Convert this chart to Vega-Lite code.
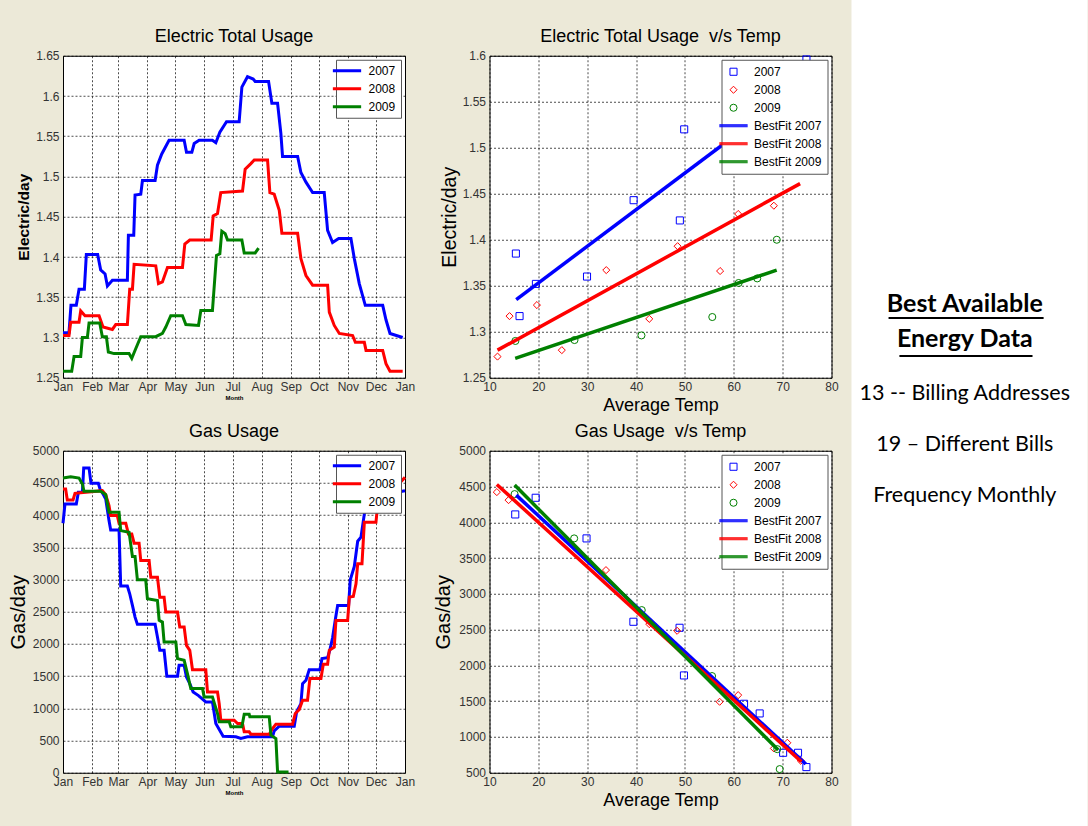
{
 "$schema": "https://vega.github.io/schema/vega-lite/v6.json",
 "background": "#ECE9D8",
 "padding": {"left": 7, "top": 0, "right": 0, "bottom": 0},
 "datasets": {
  "elec": [
   {"year":"2007","day":0,"value":1.306},{"year":"2007","day":6.4,"value":1.306},{"year":"2007","day":8.5,"value":1.34},{"year":"2007","day":14.2,"value":1.34},{"year":"2007","day":17.1,"value":1.36},{"year":"2007","day":22.8,"value":1.36},{"year":"2007","day":24.9,"value":1.403},{"year":"2007","day":37,"value":1.403},{"year":"2007","day":40.2,"value":1.384},{"year":"2007","day":44.9,"value":1.379},{"year":"2007","day":47.4,"value":1.364},{"year":"2007","day":52.7,"value":1.371},{"year":"2007","day":68.7,"value":1.371},{"year":"2007","day":69.8,"value":1.427},{"year":"2007","day":75.5,"value":1.427},{"year":"2007","day":76.9,"value":1.477},{"year":"2007","day":83,"value":1.478},{"year":"2007","day":84.8,"value":1.495},{"year":"2007","day":98.3,"value":1.495},{"year":"2007","day":100.8,"value":1.514},{"year":"2007","day":105.4,"value":1.528},{"year":"2007","day":113.2,"value":1.545},{"year":"2007","day":129.3,"value":1.545},{"year":"2007","day":131.8,"value":1.53},{"year":"2007","day":137.5,"value":1.53},{"year":"2007","day":140,"value":1.541},{"year":"2007","day":145.3,"value":1.545},{"year":"2007","day":159.5,"value":1.545},{"year":"2007","day":163.1,"value":1.542},{"year":"2007","day":167.4,"value":1.555},{"year":"2007","day":174.5,"value":1.568},{"year":"2007","day":188,"value":1.568},{"year":"2007","day":190.9,"value":1.611},{"year":"2007","day":196.9,"value":1.624},{"year":"2007","day":203,"value":1.621},{"year":"2007","day":205.1,"value":1.618},{"year":"2007","day":219.4,"value":1.618},{"year":"2007","day":222.9,"value":1.591},{"year":"2007","day":229,"value":1.591},{"year":"2007","day":232.5,"value":1.554},{"year":"2007","day":234.3,"value":1.525},{"year":"2007","day":250.4,"value":1.525},{"year":"2007","day":253.9,"value":1.505},{"year":"2007","day":259.3,"value":1.493},{"year":"2007","day":266.4,"value":1.48},{"year":"2007","day":278.8,"value":1.48},{"year":"2007","day":282.4,"value":1.433},{"year":"2007","day":287.7,"value":1.418},{"year":"2007","day":294.2,"value":1.423},{"year":"2007","day":307.3,"value":1.423},{"year":"2007","day":310.9,"value":1.398},{"year":"2007","day":316.2,"value":1.367},{"year":"2007","day":322.6,"value":1.34},{"year":"2007","day":341.2,"value":1.34},{"year":"2007","day":344.7,"value":1.322},{"year":"2007","day":349,"value":1.305},{"year":"2007","day":362.5,"value":1.3},
   {"year":"2008","day":0,"value":1.3025},{"year":"2008","day":6.4,"value":1.3025},{"year":"2008","day":8.2,"value":1.319},{"year":"2008","day":17.1,"value":1.319},{"year":"2008","day":18.9,"value":1.333},{"year":"2008","day":23.5,"value":1.327},{"year":"2008","day":38.5,"value":1.327},{"year":"2008","day":42.7,"value":1.313},{"year":"2008","day":52.7,"value":1.31},{"year":"2008","day":56.3,"value":1.316},{"year":"2008","day":68.7,"value":1.316},{"year":"2008","day":71.2,"value":1.36},{"year":"2008","day":74.1,"value":1.36},{"year":"2008","day":75.9,"value":1.391},{"year":"2008","day":99,"value":1.389},{"year":"2008","day":101.9,"value":1.367},{"year":"2008","day":106.1,"value":1.369},{"year":"2008","day":111.5,"value":1.387},{"year":"2008","day":127.5,"value":1.387},{"year":"2008","day":130,"value":1.416},{"year":"2008","day":135.3,"value":1.421},{"year":"2008","day":158.1,"value":1.421},{"year":"2008","day":160.3,"value":1.451},{"year":"2008","day":164.9,"value":1.454},{"year":"2008","day":168.4,"value":1.48},{"year":"2008","day":191.6,"value":1.482},{"year":"2008","day":194.4,"value":1.509},{"year":"2008","day":200.5,"value":1.516},{"year":"2008","day":204.1,"value":1.5205},{"year":"2008","day":218.3,"value":1.5205},{"year":"2008","day":220.8,"value":1.48},{"year":"2008","day":225.4,"value":1.478},{"year":"2008","day":230.8,"value":1.458},{"year":"2008","day":233.6,"value":1.4295},{"year":"2008","day":250.4,"value":1.4295},{"year":"2008","day":253.9,"value":1.398},{"year":"2008","day":259.3,"value":1.377},{"year":"2008","day":266.4,"value":1.365},{"year":"2008","day":282.4,"value":1.365},{"year":"2008","day":284.2,"value":1.3315},{"year":"2008","day":289.5,"value":1.315},{"year":"2008","day":294.9,"value":1.305},{"year":"2008","day":309.1,"value":1.3025},{"year":"2008","day":312,"value":1.294},{"year":"2008","day":321.6,"value":1.294},{"year":"2008","day":323.4,"value":1.284},{"year":"2008","day":341.2,"value":1.284},{"year":"2008","day":344.7,"value":1.2675},{"year":"2008","day":349,"value":1.258},{"year":"2008","day":362.5,"value":1.258},
   {"year":"2009","day":0,"value":1.258},{"year":"2009","day":9.3,"value":1.258},{"year":"2009","day":11.8,"value":1.2765},{"year":"2009","day":18.9,"value":1.2765},{"year":"2009","day":20.7,"value":1.3},{"year":"2009","day":26,"value":1.3},{"year":"2009","day":27.8,"value":1.318},{"year":"2009","day":39.2,"value":1.318},{"year":"2009","day":42,"value":1.301},{"year":"2009","day":46.3,"value":1.301},{"year":"2009","day":48.4,"value":1.282},{"year":"2009","day":54.5,"value":1.28},{"year":"2009","day":70.5,"value":1.28},{"year":"2009","day":73.4,"value":1.274},{"year":"2009","day":77.6,"value":1.286},{"year":"2009","day":83,"value":1.301},{"year":"2009","day":99,"value":1.301},{"year":"2009","day":106.1,"value":1.305},{"year":"2009","day":109.7,"value":1.313},{"year":"2009","day":115,"value":1.327},{"year":"2009","day":127.5,"value":1.327},{"year":"2009","day":131.1,"value":1.316},{"year":"2009","day":144.6,"value":1.315},{"year":"2009","day":147.1,"value":1.3335},{"year":"2009","day":159.5,"value":1.3335},{"year":"2009","day":163.8,"value":1.402},{"year":"2009","day":167.4,"value":1.404},{"year":"2009","day":169.5,"value":1.432},{"year":"2009","day":173.1,"value":1.429},{"year":"2009","day":175.6,"value":1.421},{"year":"2009","day":190.9,"value":1.421},{"year":"2009","day":193.4,"value":1.405},{"year":"2009","day":205.1,"value":1.405},{"year":"2009","day":208.7,"value":1.411}
  ],
  "gas": [
   {"year":"2007","day":0,"value":3874},{"year":"2007","day":2.1,"value":4173},{"year":"2007","day":14.2,"value":4173},{"year":"2007","day":16.4,"value":4354},{"year":"2007","day":20.7,"value":4354},{"year":"2007","day":22.1,"value":4731},{"year":"2007","day":27.8,"value":4731},{"year":"2007","day":29.9,"value":4494},{"year":"2007","day":37.7,"value":4494},{"year":"2007","day":39.5,"value":4406},{"year":"2007","day":43.8,"value":4302},{"year":"2007","day":45.6,"value":4251},{"year":"2007","day":49.1,"value":3915},{"year":"2007","day":50.9,"value":3770},{"year":"2007","day":59.8,"value":3770},{"year":"2007","day":61.6,"value":2898},{"year":"2007","day":68.7,"value":2898},{"year":"2007","day":71.2,"value":2779},{"year":"2007","day":74.1,"value":2598},{"year":"2007","day":76.9,"value":2417},{"year":"2007","day":79.4,"value":2304},{"year":"2007","day":98.3,"value":2304},{"year":"2007","day":100.8,"value":2107},{"year":"2007","day":103.3,"value":1901},{"year":"2007","day":107.9,"value":1901},{"year":"2007","day":110.8,"value":1498},{"year":"2007","day":122.2,"value":1498},{"year":"2007","day":123.9,"value":1668},{"year":"2007","day":129.3,"value":1668},{"year":"2007","day":131.8,"value":1488},{"year":"2007","day":135.3,"value":1384},{"year":"2007","day":138.9,"value":1255},{"year":"2007","day":144.6,"value":1198},{"year":"2007","day":152.4,"value":1100},{"year":"2007","day":159.5,"value":1100},{"year":"2007","day":163.1,"value":764},{"year":"2007","day":170.9,"value":568},{"year":"2007","day":184.5,"value":558},{"year":"2007","day":189.8,"value":532},{"year":"2007","day":196.9,"value":558},{"year":"2007","day":223.6,"value":558},{"year":"2007","day":225.4,"value":651},{"year":"2007","day":230.8,"value":723},{"year":"2007","day":246.8,"value":723},{"year":"2007","day":249.3,"value":945},{"year":"2007","day":253.9,"value":1074},{"year":"2007","day":255.7,"value":1384},{"year":"2007","day":259.3,"value":1436},{"year":"2007","day":262.8,"value":1601},{"year":"2007","day":274.2,"value":1601},{"year":"2007","day":276.4,"value":1772},{"year":"2007","day":282.4,"value":1787},{"year":"2007","day":284.9,"value":1911},{"year":"2007","day":287.7,"value":2097},{"year":"2007","day":290.6,"value":2376},{"year":"2007","day":293.1,"value":2598},{"year":"2007","day":304.8,"value":2598},{"year":"2007","day":306.6,"value":2996},{"year":"2007","day":310.9,"value":3202},{"year":"2007","day":314.5,"value":3595},{"year":"2007","day":318,"value":3657},{"year":"2007","day":321.6,"value":4018},{"year":"2007","day":326.9,"value":4277},{"year":"2007","day":365,"value":4380},
   {"year":"2008","day":0,"value":4406},{"year":"2008","day":2.8,"value":4406},{"year":"2008","day":4.6,"value":4235},{"year":"2008","day":10.7,"value":4235},{"year":"2008","day":12.8,"value":4339},{"year":"2008","day":42,"value":4380},{"year":"2008","day":45.6,"value":4318},{"year":"2008","day":49.1,"value":4147},{"year":"2008","day":50.9,"value":3993},{"year":"2008","day":58,"value":3993},{"year":"2008","day":59.8,"value":3874},{"year":"2008","day":67,"value":3874},{"year":"2008","day":69.8,"value":3708},{"year":"2008","day":73.4,"value":3708},{"year":"2008","day":75.9,"value":3564},{"year":"2008","day":81.2,"value":3564},{"year":"2008","day":83,"value":3295},{"year":"2008","day":91.9,"value":3295},{"year":"2008","day":93.7,"value":3037},{"year":"2008","day":100.8,"value":3037},{"year":"2008","day":103.3,"value":2727},{"year":"2008","day":107.9,"value":2727},{"year":"2008","day":109.7,"value":2495},{"year":"2008","day":122.2,"value":2495},{"year":"2008","day":124.6,"value":2262},{"year":"2008","day":129.3,"value":2262},{"year":"2008","day":131.8,"value":1978},{"year":"2008","day":135.3,"value":1901},{"year":"2008","day":138.2,"value":1601},{"year":"2008","day":152.4,"value":1601},{"year":"2008","day":154.2,"value":1255},{"year":"2008","day":164.9,"value":1255},{"year":"2008","day":166.7,"value":1074},{"year":"2008","day":168.4,"value":816},{"year":"2008","day":182.7,"value":816},{"year":"2008","day":186.3,"value":764},{"year":"2008","day":191.6,"value":764},{"year":"2008","day":193.4,"value":635},{"year":"2008","day":198.7,"value":635},{"year":"2008","day":200.5,"value":599},{"year":"2008","day":220.1,"value":599},{"year":"2008","day":223.6,"value":687},{"year":"2008","day":227.2,"value":754},{"year":"2008","day":245,"value":754},{"year":"2008","day":247.9,"value":919},{"year":"2008","day":252.1,"value":981},{"year":"2008","day":255.7,"value":1126},{"year":"2008","day":261,"value":1126},{"year":"2008","day":263.5,"value":1462},{"year":"2008","day":275.3,"value":1462},{"year":"2008","day":277.8,"value":1684},{"year":"2008","day":282.4,"value":1684},{"year":"2008","day":284.2,"value":1901},{"year":"2008","day":289.5,"value":1952},{"year":"2008","day":291.3,"value":2366},{"year":"2008","day":303.8,"value":2366},{"year":"2008","day":305.6,"value":2727},{"year":"2008","day":309.8,"value":2737},{"year":"2008","day":312.7,"value":2934},{"year":"2008","day":314.5,"value":3244},{"year":"2008","day":319.1,"value":3244},{"year":"2008","day":321.6,"value":3889},{"year":"2008","day":334,"value":3889},{"year":"2008","day":335.8,"value":4147},{"year":"2008","day":365,"value":4587},
   {"year":"2009","day":0,"value":4576},{"year":"2009","day":8.2,"value":4597},{"year":"2009","day":17.1,"value":4576},{"year":"2009","day":20.7,"value":4483},{"year":"2009","day":22.4,"value":4370},{"year":"2009","day":40.2,"value":4370},{"year":"2009","day":45.6,"value":4318},{"year":"2009","day":49.1,"value":4044},{"year":"2009","day":59.8,"value":4044},{"year":"2009","day":61.6,"value":3760},{"year":"2009","day":70.5,"value":3734},{"year":"2009","day":74.1,"value":3357},{"year":"2009","day":76.9,"value":3357},{"year":"2009","day":79.4,"value":2996},{"year":"2009","day":88.3,"value":2996},{"year":"2009","day":90.1,"value":2701},{"year":"2009","day":100.8,"value":2675},{"year":"2009","day":102.6,"value":2366},{"year":"2009","day":106.1,"value":2340},{"year":"2009","day":107.9,"value":2030},{"year":"2009","day":120.4,"value":2030},{"year":"2009","day":122.2,"value":1772},{"year":"2009","day":129.3,"value":1746},{"year":"2009","day":132.8,"value":1539},{"year":"2009","day":136.4,"value":1307},{"year":"2009","day":148.9,"value":1307},{"year":"2009","day":150.6,"value":1178},{"year":"2009","day":159.5,"value":1178},{"year":"2009","day":164.9,"value":919},{"year":"2009","day":166.7,"value":790},{"year":"2009","day":177.4,"value":790},{"year":"2009","day":179.1,"value":713},{"year":"2009","day":190.9,"value":713},{"year":"2009","day":193.4,"value":909},{"year":"2009","day":198.7,"value":909},{"year":"2009","day":199.4,"value":868},{"year":"2009","day":220.1,"value":868},{"year":"2009","day":221.9,"value":584},{"year":"2009","day":227.2,"value":532},{"year":"2009","day":229,"value":10},{"year":"2009","day":240.7,"value":10}
  ],
  "elecPts": [
   {"series":"2007","temp":15.4,"value":1.385},{"series":"2007","temp":16.15,"value":1.317},{"series":"2007","temp":19.5,"value":1.352},{"series":"2007","temp":29.96,"value":1.36},{"series":"2007","temp":39.5,"value":1.443},{"series":"2007","temp":48.96,"value":1.421},{"series":"2007","temp":49.85,"value":1.52},{"series":"2007","temp":74.87,"value":1.596},
   {"series":"2008","temp":11.64,"value":1.273},{"series":"2008","temp":14.1,"value":1.317},{"series":"2008","temp":19.7,"value":1.329},{"series":"2008","temp":24.8,"value":1.28},{"series":"2008","temp":33.9,"value":1.367},{"series":"2008","temp":42.7,"value":1.314},{"series":"2008","temp":48.5,"value":1.393},{"series":"2008","temp":57.2,"value":1.366},{"series":"2008","temp":60.9,"value":1.428},{"series":"2008","temp":68.2,"value":1.437},
   {"series":"2009","temp":15.3,"value":1.29},{"series":"2009","temp":27.4,"value":1.291},{"series":"2009","temp":41.1,"value":1.296},{"series":"2009","temp":55.6,"value":1.316},{"series":"2009","temp":61,"value":1.353},{"series":"2009","temp":64.8,"value":1.358},{"series":"2009","temp":68.8,"value":1.4}
  ],
  "elecFit": [
   {"series":"BestFit 2007","temp":15.47,"value":1.335},{"series":"BestFit 2007","temp":75,"value":1.572},
   {"series":"BestFit 2008","temp":11.64,"value":1.28},{"series":"BestFit 2008","temp":73.57,"value":1.461},
   {"series":"BestFit 2009","temp":15.26,"value":1.271},{"series":"BestFit 2009","temp":68.78,"value":1.367}
  ],
  "gasPts": [
   {"series":"2007","temp":15.27,"value":4110},{"series":"2007","temp":19.45,"value":4343},{"series":"2007","temp":29.86,"value":3775},{"series":"2007","temp":39.45,"value":2610},{"series":"2007","temp":48.9,"value":2526},{"series":"2007","temp":49.8,"value":1860},{"series":"2007","temp":62.1,"value":1464},{"series":"2007","temp":65.3,"value":1329},{"series":"2007","temp":70.1,"value":779},{"series":"2007","temp":73.15,"value":779},{"series":"2007","temp":74.86,"value":579},
   {"series":"2008","temp":11.5,"value":4422},{"series":"2008","temp":13.9,"value":4310},{"series":"2008","temp":33.84,"value":3332},{"series":"2008","temp":42.7,"value":2577},{"series":"2008","temp":48.4,"value":2484},{"series":"2008","temp":57.1,"value":1492},{"series":"2008","temp":60.9,"value":1585},{"series":"2008","temp":68.2,"value":840},{"series":"2008","temp":70.96,"value":919},{"series":"2008","temp":73.7,"value":668},
   {"series":"2009","temp":15.14,"value":4394},{"series":"2009","temp":27.33,"value":3775},{"series":"2009","temp":41.16,"value":2773},{"series":"2009","temp":55.55,"value":1851},{"series":"2009","temp":68.9,"value":830},{"series":"2009","temp":69.4,"value":551}
  ],
  "gasFit": [
   {"series":"BestFit 2007","temp":15.48,"value":4380},{"series":"BestFit 2007","temp":74.73,"value":621},
   {"series":"BestFit 2008","temp":11.5,"value":4529},{"series":"BestFit 2008","temp":73.84,"value":654},
   {"series":"BestFit 2009","temp":15.14,"value":4520},{"series":"BestFit 2009","temp":69.1,"value":817}
  ],
  "heads": [{"line":1,"text":"Best Available"},{"line":2,"text":"Energy Data"}],
  "notes": [{"line":3,"text":"13 -- Billing Addresses"},{"line":4,"text":"19 – Different Bills"},{"line":5,"text":"Frequency Monthly"}]
 },
 "hconcat": [
  {
   "columns": 2,
   "spacing": {"row": 6, "column": 16.5},
   "resolve": {"scale": {"color": "independent", "shape": "independent"}, "legend": {"color": "independent", "shape": "independent"}},
   "concat": [
    {
     "title": "Electric Total Usage",
     "width": 342, "height": 322,
     "data": {"name": "elec"},
     "mark": {"type": "line", "strokeWidth": 3},
     "encoding": {
      "x": {"field": "day", "type": "quantitative", "scale": {"domain": [0, 365], "nice": false, "zero": false},
            "axis": {"values": [0,31,59,90,120,151,181,212,243,273,304,334,365], "labelExpr": "['Jan','Feb','Mar','Apr','May','Jun','Jul','Aug','Sep','Oct','Nov','Dec','Jan'][indexof([0,31,59,90,120,151,181,212,243,273,304,334,365], datum.value)]", "labelOverlap": false, "title": "Month", "titleFontSize": 6, "titleFontWeight": "bold", "titlePadding": 2}},
      "y": {"field": "value", "type": "quantitative", "scale": {"domain": [1.25, 1.65], "nice": false, "zero": false},
            "axis": {"values": [1.25,1.3,1.35,1.4,1.45,1.5,1.55,1.6,1.65], "format": ".2~f", "labelOverlap": false, "title": "Electric/day", "titleFontSize": 15.5, "titleFontWeight": "bold", "titlePadding": 4}},
      "color": {"field": "year", "type": "nominal", "scale": {"domain": ["2007","2008","2009"], "range": ["#0000FF","#FF0000","#008000"]},
                "legend": {"title": null, "orient": "top-right", "symbolType": "M-4,0H4", "symbolSize": 50, "symbolStrokeWidth": 3, "rowPadding": 6, "labelOffset": 15.5, "padding": 5}}
     }
    },
    {
     "title": "Electric Total Usage\u00a0 v/s Temp",
     "width": 342, "height": 322,
     "layer": [
      {
       "data": {"name": "elecPts"},
       "mark": {"type": "point", "filled": false, "size": 50, "strokeWidth": 1, "opacity": 1},
       "encoding": {
        "x": {"field": "temp", "type": "quantitative", "scale": {"domain": [10, 80], "nice": false, "zero": false},
              "axis": {"values": [10,20,30,40,50,60,70,80], "labelOverlap": false, "title": "Average Temp", "titleFontSize": 18, "titlePadding": 4}},
        "y": {"field": "value", "type": "quantitative", "scale": {"domain": [1.25, 1.6], "nice": false, "zero": false},
              "axis": {"values": [1.25,1.3,1.35,1.4,1.45,1.5,1.55,1.6], "format": ".2~f", "labelOverlap": false, "title": "Electric/day", "titleFontSize": 19.5, "titlePadding": 3}},
        "color": {"field": "series", "type": "nominal",
                  "scale": {"domain": ["2007","2008","2009","BestFit 2007","BestFit 2008","BestFit 2009"], "range": ["#0000FF","#FF0000","#008000","#0000FF","#FF0000","#008000"]},
                  "legend": {"title": null, "orient": "top-right", "symbolSize": 50, "symbolStrokeWidth": 1, "rowPadding": 6, "labelOffset": 14.5, "padding": 6}},
        "shape": {"field": "series", "type": "nominal",
                  "scale": {"domain": ["2007","2008","2009","BestFit 2007","BestFit 2008","BestFit 2009"], "range": ["square","diamond","circle","M-4,-0.28H4M-4,0H4M-4,0.28H4","M-4,-0.28H4M-4,0H4M-4,0.28H4","M-4,-0.28H4M-4,0H4M-4,0.28H4"]},
                  "legend": {"title": null, "orient": "top-right", "symbolSize": 50, "symbolStrokeWidth": 1, "rowPadding": 6, "labelOffset": 14.5, "padding": 6}}
       }
      },
      {
       "data": {"name": "elecFit"},
       "mark": {"type": "line", "strokeWidth": 3.5},
       "encoding": {
        "x": {"field": "temp", "type": "quantitative"},
        "y": {"field": "value", "type": "quantitative"},
        "color": {"field": "series", "type": "nominal"}
       }
      }
     ]
    },
    {
     "title": "Gas Usage",
     "width": 342, "height": 322,
     "data": {"name": "gas"},
     "mark": {"type": "line", "strokeWidth": 3},
     "encoding": {
      "x": {"field": "day", "type": "quantitative", "scale": {"domain": [0, 365], "nice": false, "zero": false},
            "axis": {"values": [0,31,59,90,120,151,181,212,243,273,304,334,365], "labelExpr": "['Jan','Feb','Mar','Apr','May','Jun','Jul','Aug','Sep','Oct','Nov','Dec','Jan'][indexof([0,31,59,90,120,151,181,212,243,273,304,334,365], datum.value)]", "labelOverlap": false, "title": "Month", "titleFontSize": 6, "titleFontWeight": "bold", "titlePadding": 2}},
      "y": {"field": "value", "type": "quantitative", "scale": {"domain": [0, 5000], "nice": false},
            "axis": {"values": [0,500,1000,1500,2000,2500,3000,3500,4000,4500,5000], "format": "d", "labelOverlap": false, "title": "Gas/day", "titleFontSize": 20, "titlePadding": 4}},
      "color": {"field": "year", "type": "nominal", "scale": {"domain": ["2007","2008","2009"], "range": ["#0000FF","#FF0000","#008000"]},
                "legend": {"title": null, "orient": "top-right", "symbolType": "M-4,0H4", "symbolSize": 50, "symbolStrokeWidth": 3, "rowPadding": 6, "labelOffset": 15.5, "padding": 5}}
     }
    },
    {
     "title": "Gas Usage\u00a0 v/s Temp",
     "width": 342, "height": 322,
     "layer": [
      {
       "data": {"name": "gasPts"},
       "mark": {"type": "point", "filled": false, "size": 50, "strokeWidth": 1, "opacity": 1},
       "encoding": {
        "x": {"field": "temp", "type": "quantitative", "scale": {"domain": [10, 80], "nice": false, "zero": false},
              "axis": {"values": [10,20,30,40,50,60,70,80], "labelOverlap": false, "title": "Average Temp", "titleFontSize": 18, "titlePadding": 4}},
        "y": {"field": "value", "type": "quantitative", "scale": {"domain": [500, 5000], "nice": false, "zero": false},
              "axis": {"values": [500,1000,1500,2000,2500,3000,3500,4000,4500,5000], "format": "d", "labelOverlap": false, "labelSeparation": 0, "tickCount": 10, "title": "Gas/day", "titleFontSize": 20, "titlePadding": 5}},
        "color": {"field": "series", "type": "nominal",
                  "scale": {"domain": ["2007","2008","2009","BestFit 2007","BestFit 2008","BestFit 2009"], "range": ["#0000FF","#FF0000","#008000","#0000FF","#FF0000","#008000"]},
                  "legend": {"title": null, "orient": "top-right", "symbolSize": 50, "symbolStrokeWidth": 1, "rowPadding": 6, "labelOffset": 14.5, "padding": 6}},
        "shape": {"field": "series", "type": "nominal",
                  "scale": {"domain": ["2007","2008","2009","BestFit 2007","BestFit 2008","BestFit 2009"], "range": ["square","diamond","circle","M-4,-0.28H4M-4,0H4M-4,0.28H4","M-4,-0.28H4M-4,0H4M-4,0.28H4","M-4,-0.28H4M-4,0H4M-4,0.28H4"]},
                  "legend": {"title": null, "orient": "top-right", "symbolSize": 50, "symbolStrokeWidth": 1, "rowPadding": 6, "labelOffset": 14.5, "padding": 6}}
       }
      },
      {
       "data": {"name": "gasFit"},
       "mark": {"type": "line", "strokeWidth": 3.5},
       "encoding": {
        "x": {"field": "temp", "type": "quantitative", "scale": {"domain": [10, 80], "nice": false, "zero": false},
              "axis": {"values": [10,20,30,40,50,60,70,80], "labelOverlap": false, "title": "Average Temp", "titleFontSize": 18, "titlePadding": 4}},
        "y": {"field": "value", "type": "quantitative", "scale": {"domain": [500, 5000], "nice": false, "zero": false},
              "axis": {"values": [500,1000,1500,2000,2500,3000,3500,4000,4500,5000], "format": "d", "labelOverlap": false, "labelSeparation": 0, "tickCount": 10, "title": "Gas/day", "titleFontSize": 20, "titlePadding": 5}},
        "color": {"field": "series", "type": "nominal"}
       }
      }
     ]
    }
   ]
  },
  {
   "width": 236, "height": 866,
   "view": {"fill": "white", "stroke": null},
   "layer": [
    {
     "data": {"name": "heads"},
     "mark": {"type": "text", "font": "Lato", "fontWeight": "bold", "fontSize": 25, "baseline": "middle", "align": "center", "color": "#000"},
     "encoding": {
      "x": {"datum": 48, "type": "quantitative", "scale": {"domain": [0, 100], "nice": false}, "axis": null},
      "y": {"field": "line", "type": "quantitative", "scale": {"domain": [1, 2], "range": [304, 339], "nice": false, "zero": false}, "axis": null},
      "text": {"field": "text"}
     }
    },
    {
     "data": {"name": "heads"},
     "transform": [{"filter": "datum.line == 1"}],
     "mark": {"type": "rule", "strokeWidth": 2, "yOffset": 14, "color": "#000"},
     "encoding": {
      "x": {"datum": 15.7, "type": "quantitative", "scale": {"domain": [0, 100], "nice": false}, "axis": null},
      "x2": {"datum": 81.4},
      "y": {"field": "line", "type": "quantitative", "scale": {"domain": [1, 2], "range": [304, 339], "nice": false, "zero": false}, "axis": null}
     }
    },
    {
     "data": {"name": "heads"},
     "transform": [{"filter": "datum.line == 2"}],
     "mark": {"type": "rule", "strokeWidth": 2, "yOffset": 17, "color": "#000"},
     "encoding": {
      "x": {"datum": 20.3, "type": "quantitative", "scale": {"domain": [0, 100], "nice": false}, "axis": null},
      "x2": {"datum": 76.7},
      "y": {"field": "line", "type": "quantitative", "scale": {"domain": [1, 2], "range": [304, 339], "nice": false, "zero": false}, "axis": null}
     }
    },
    {
     "data": {"name": "notes"},
     "mark": {"type": "text", "font": "Lato", "fontSize": 21.5, "baseline": "middle", "align": "center", "color": "#000"},
     "encoding": {
      "x": {"datum": 48, "type": "quantitative", "scale": {"domain": [0, 100], "nice": false}, "axis": null},
      "y": {"field": "line", "type": "quantitative", "scale": {"domain": [3, 5], "range": [393.5, 496], "nice": false, "zero": false}, "axis": null},
      "text": {"field": "text"}
     }
    }
   ],
   "resolve": {"scale": {"y": "independent"}}
  }
 ],
 "spacing": 12.5,
 "center": true,
 "resolve": {"scale": {"color": "independent", "shape": "independent"}, "legend": {"color": "independent", "shape": "independent"}},
 "config": {
  "font": "Liberation Sans",
  "view": {"stroke": "#000", "fill": "white", "strokeWidth": 1},
  "axis": {"labelFont": "Liberation Sans", "labelFontSize": 12, "labelColor": "#333", "domain": false, "ticks": false, "labelPadding": 4,
           "grid": true, "gridColor": "#000", "gridDash": [2, 2], "gridOpacity": 0.7, "gridWidth": 1,
           "titleFont": "Liberation Sans", "titleColor": "#000", "titleFontWeight": "normal", "labelFlush": false, "labelOverlap": false},
  "title": {"font": "Liberation Sans", "fontSize": 18, "fontWeight": "normal", "color": "#000", "offset": 4},
  "legend": {"orient": "top-right", "offset": 4, "fillColor": "white", "strokeColor": "#555", "padding": 5,
             "labelFont": "Liberation Sans", "labelFontSize": 12, "labelColor": "#000"}
 }
}
